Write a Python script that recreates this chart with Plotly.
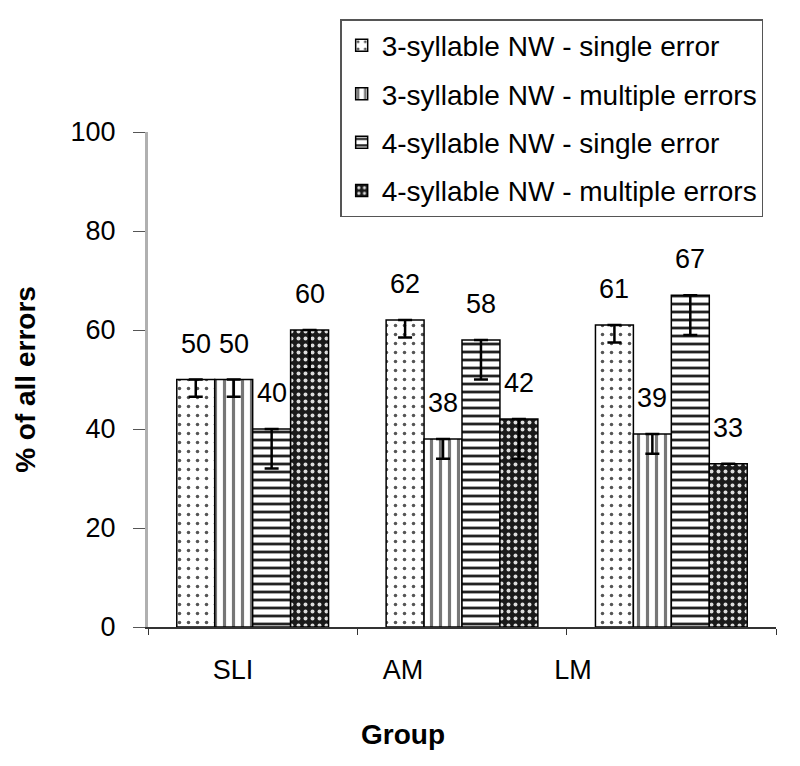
import plotly.graph_objects as go

groups = ["SLI", "AM", "LM"]
series_names = [
    "3-syllable NW - single error",
    "3-syllable NW - multiple errors",
    "4-syllable NW - single error",
    "4-syllable NW - multiple errors",
]
values = [
    [50, 62, 61],
    [50, 38, 39],
    [40, 58, 67],
    [60, 42, 33],
]
err_minus = [
    [3.5, 3.5, 3.5],
    [3.5, 4, 4],
    [8, 8, 8],
    [8, 8, 0],
]
labels = [
    ["50", "62", "61"],
    ["50", "38", "39"],
    ["40", "58", "67"],
    ["60", "42", "33"],
]
y_ticks = [0, 20, 40, 60, 80, 100]

FONT = "Arial, Liberation Sans, sans-serif"

patterns = [
    dict(shape=".", fgcolor="#555", bgcolor="white", size=9, solidity=0.12, fillmode="replace"),
    dict(shape="|", fgcolor="#777", bgcolor="white", size=9, solidity=0.35, fillmode="replace"),
    dict(shape="-", fgcolor="#222", bgcolor="white", size=8, solidity=0.35, fillmode="replace"),
    dict(shape=".", fgcolor="#ddd", bgcolor="#1a1a1a", size=7, solidity=0.25, fillmode="replace"),
]

# page body has an 8px default margin
L, R, T, B = 140, 32, 124, 147
W, H = 800, 766
bargap = 0.275

fig = go.Figure()
for i, name in enumerate(series_names):
    fig.add_trace(go.Bar(
        name=name,
        x=groups,
        y=values[i],
        legendgroup=f"g{i}",
        marker=dict(color="white", line=dict(color="black", width=1.5), pattern=patterns[i]),
        error_y=dict(type="data", symmetric=False, array=[0, 0, 0], arrayminus=err_minus[i],
                     color="black", thickness=2.5, width=7),
    ))

# invisible trace carrying the category labels on a narrower companion axis
fig.add_trace(go.Scatter(x=groups, y=[0, 0, 0], xaxis="x2", yaxis="y", mode="markers",
                         marker=dict(opacity=0), showlegend=False, hoverinfo="skip",
                         cliponaxis=False))

plot_w = W - L - R
cat_w = plot_w / len(groups)
bar_w = cat_w * (1 - bargap) / len(series_names)
for i in range(len(series_names)):
    for j, g in enumerate(groups):
        fig.add_annotation(
            x=g, y=values[i][j], xref="x", yref="y", text=labels[i][j], showarrow=False,
            xshift=(i - 1.5) * bar_w, yshift=36,
            font=dict(family=FONT, size=27, color="black"),
        )

fig.update_layout(
    width=W, height=H,
    margin=dict(l=L, r=R, t=T, b=B, autoexpand=False),
    paper_bgcolor="white", plot_bgcolor="rgba(0,0,0,0)",
    barmode="group", bargap=bargap, bargroupgap=0,
    font=dict(family=FONT, color="black"),
    showlegend=True,
    legend=dict(
        x=0.306, y=1.228, xanchor="left", yanchor="top",
        bordercolor="#555", borderwidth=1.5, bgcolor="white",
        font=dict(family=FONT, size=28, color="black"),
        tracegroupgap=9, traceorder="grouped",
    ),
    xaxis=dict(
        domain=[0, 1],
        showline=True, linecolor="#333", linewidth=2,
        ticks="outside", tickson="boundaries", ticklen=6, tickcolor="#333",
        showticklabels=False,
    ),
    xaxis2=dict(
        domain=[0, 510 / plot_w], anchor="y", side="bottom",
        type="category", categoryorder="array", categoryarray=groups, range=[-0.5, 2.5],
        showline=False, showgrid=False, zeroline=False, ticks="",
        ticklabelstandoff=24,
        tickfont=dict(family=FONT, size=27, color="black"),
        title=dict(text="<b>Group</b>", font=dict(family=FONT, size=28, color="black"), standoff=40),
    ),
    yaxis=dict(
        range=[0, 100], tickvals=y_ticks,
        showline=True, linecolor="#b0b0b0", linewidth=3, showgrid=False, zeroline=False,
        ticks="outside", ticklen=12, tickcolor="#555",
        ticklabelstandoff=12,
        tickfont=dict(family=FONT, size=27, color="black"),
        title=dict(text="<b>% of all errors</b>", font=dict(family=FONT, size=28, color="black"), standoff=27),
    ),
)

fig.write_html("out.html")
